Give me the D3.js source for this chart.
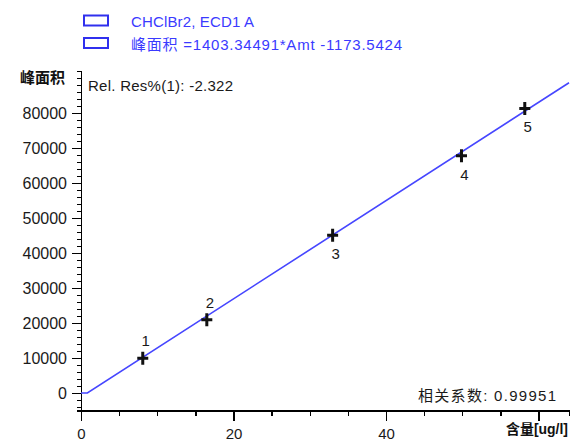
<!DOCTYPE html>
<html>
<head>
<meta charset="utf-8">
<script src="https://cdn.jsdelivr.net/npm/d3@7"></script>
<style>
  body { margin: 0; background: #fff; }
  svg { display: block; font-family: "Liberation Sans", Arial, "Noto Sans CJK SC", sans-serif; }
  .axis path, .axis line { stroke: #000; stroke-width: 1.4px; shape-rendering: crispEdges; }
  .axis text { fill: #1a1a1a; font-size: 15px; font-family: "Liberation Sans", Arial, sans-serif; }
  .yaxis text { font-size: 16px; }
</style>
</head>
<body>
<div id="chart"></div>
<script>
// calibration points
var levels = ['1', '2', '3', '4', '5'];
var amounts = [8.1, 16.5, 33.0, 49.9, 58.2];
var areas = [9900, 20900, 45100, 67800, 81300];

// fit line
var slope = 1403.34491;
var intercept = -1173.5424;

var xMajorTicks = [0, 20, 40, 60];
var xTickLabels = ['0', '20', '40', ''];
var yMajorTicks = [0, 10000, 20000, 30000, 40000, 50000, 60000, 70000, 80000];

var legendLines = ['CHClBr2, ECD1 A', '峰面积 =1403.34491*Amt -1173.5424'];
var legendWidths = [123, 271];

var width = 570, height = 442;

var svg = d3.select('#chart')
.append('svg')
.attr('width', width)
.attr('height', height)
;

var x = d3.scaleLinear().domain([0, 64]).range([81, 569]);
var y = d3.scaleLinear().domain([-5000, 92000]).range([410.5, 71]);

// minor ticks first
svg.append('g')
.attr('class', 'axis')
.attr('transform', 'translate(' + x(0) + ',0)')
.call(d3.axisLeft(y).tickValues(d3.range(-4000, 92001, 2000)).tickSize(4).tickFormat(''))
;

svg.append('g')
.attr('class', 'axis')
.attr('transform', 'translate(0,' + y(-5000) + ')')
.call(d3.axisBottom(x).tickValues(d3.range(0, 65, 5)).tickSize(5).tickFormat(''))
;

// major ticks + labels
var yAxis = svg.append('g')
.attr('class', 'axis yaxis')
.attr('transform', 'translate(' + x(0) + ',0)')
.call(d3.axisLeft(y).tickValues(yMajorTicks).tickSize(9).tickPadding(5).tickSizeOuter(0).tickFormat(d3.format('d')))
;

var xAxis = svg.append('g')
.attr('class', 'axis')
.attr('transform', 'translate(0,' + y(-5000) + ')')
.call(d3.axisBottom(x).tickValues(xMajorTicks).tickSize(10).tickPadding(8).tickSizeOuter(0)
    .tickFormat(function(d, i){ return xTickLabels[i]; }))
;
xAxis.select('path.domain').attr('d', 'M' + x(0) + ',0H' + width);

// axis titles
svg.append('text')
.attr('x', 20).attr('y', 83)
.style('font-size', '15px').style('font-weight', 700)
.attr('fill', '#111')
.text('峰面积');

svg.append('text')
.attr('x', 506).attr('y', 434)
.attr('textLength', 62).attr('lengthAdjust', 'spacingAndGlyphs')
.style('font-size', '14px').style('font-weight', 700)
.attr('fill', '#111')
.text('含量[ug/l]');

// fit line, held at zero until it crosses the axis
var xZero = -intercept / slope;
var fitAmounts = [0, xZero, 64];
var line = d3.line()
.x(function(d){ return x(d); })
.y(function(d){ return y(Math.max(0, slope * d + intercept)); });

svg.append('path')
.datum(fitAmounts)
.attr('d', line)
.attr('fill', 'none')
.attr('stroke', '#4646ff')
.attr('stroke-width', 1.6)
;

// points as crosses
var pts = svg.selectAll('g.pt')
.data(levels)
.enter()
.append('g')
.attr('class', 'pt')
.attr('transform', function(d, i){ return 'translate(' + x(amounts[i]) + ',' + y(areas[i]) + ')'; })
;

pts.append('path')
.attr('d', 'M-5.5,0H5.5M0,-6.5V6.5')
.attr('stroke', '#111')
.attr('stroke-width', 3)
;

pts.append('text')
.text(function(d){ return d; })
.attr('x', 3)
.attr('y', function(d, i){ return i < 2 ? -12 : 24; })
.attr('text-anchor', 'middle')
.attr('fill', '#1a1a1a')
.style('font-size', '15px')
;

// annotations
svg.append('text')
.attr('x', 88).attr('y', 91)
.attr('textLength', 145)
.attr('fill', '#1a1a1a').style('font-size', '15px')
.text('Rel. Res%(1): -2.322');

svg.append('text')
.attr('x', 418).attr('y', 401)
.attr('textLength', 138)
.attr('fill', '#1a1a1a').style('font-size', '15px')
.text('相关系数: 0.99951');

// legend
var leg = svg.selectAll('g.leg')
.data(legendLines)
.enter()
.append('g')
.attr('class', 'leg')
.attr('transform', function(d, i){ return 'translate(0,' + (i * 22.5) + ')'; })
;

leg.append('rect')
.attr('x', 84).attr('y', 15.5)
.attr('width', 24).attr('height', 10)
.attr('fill', 'none')
.attr('stroke', '#3030ee')
.attr('stroke-width', 2)
;

leg.append('text')
.attr('x', 131).attr('y', 27)
.attr('textLength', function(d, i){ return legendWidths[i]; })
.attr('fill', '#3a3aff')
.style('font-size', '15px')
.text(function(d){ return d; })
;
</script>
</body>
</html>
